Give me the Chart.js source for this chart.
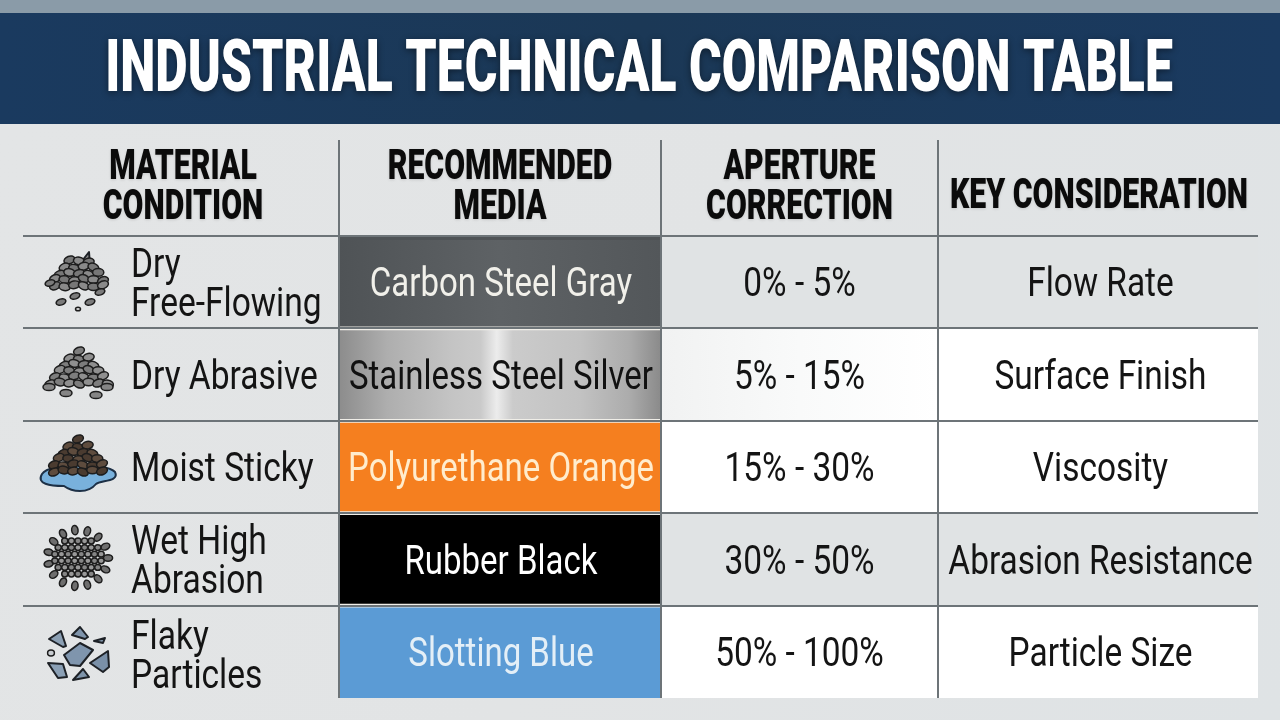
<!DOCTYPE html>
<html>
<head>
<meta charset="utf-8">
<title>Industrial Technical Comparison Table</title>
<script src="https://cdn.jsdelivr.net/npm/chart.js@4"></script>
<style>
  html, body { margin: 0; padding: 0; background: #e2e5e6; }
  canvas { display: block; }
</style>
</head>
<body>
<canvas id="myChart" width="1280" height="720"></canvas>
<script>
const chartTitle = 'INDUSTRIAL TECHNICAL COMPARISON TABLE'
const columnHeaders = ['MATERIAL\nCONDITION', 'RECOMMENDED\nMEDIA', 'APERTURE\nCORRECTION', 'KEY CONSIDERATION']
const materials = ['Dry\nFree-Flowing', 'Dry Abrasive', 'Moist Sticky', 'Wet High\nAbrasion', 'Flaky\nParticles']
const media = ['Carbon Steel Gray', 'Stainless Steel Silver', 'Polyurethane Orange', 'Rubber Black', 'Slotting Blue']
const apertureCorrection = ['0% - 5%', '5% - 15%', '15% - 30%', '30% - 50%', '50% - 100%']
const keyConsideration = ['Flow Rate', 'Surface Finish', 'Viscosity', 'Abrasion Resistance', 'Particle Size']

// table grid, in pixels of the x scale
const edges = [0, 316, 638, 915, 1235]
const span = (col) => materials.map(() => [edges[col], edges[col + 1]])

const mediaText = ['#f1f0ea', '#111111', '#ffeccd', '#ffffff', '#e4eff7']
const rowFill = ['#e0e3e4', '#ffffff', '#ffffff', '#e0e3e4', '#ffffff']
const LINE = '#6d7478'

const mediaFill = (context) => {
  const { ctx, chartArea } = context.chart
  if (!chartArea) return '#888888'
  const xs = context.chart.scales.x
  const x0 = xs.getPixelForValue(edges[1])
  const x1 = xs.getPixelForValue(edges[2])
  if (!Number.isFinite(x0) || !Number.isFinite(x1)) return '#888888'
  const g = ctx.createLinearGradient(x0, 0, x1, 0)
  if (context.dataIndex === 0) {
    g.addColorStop(0, '#4f5356'); g.addColorStop(0.5, '#5e6265'); g.addColorStop(1, '#53575a')
  } else if (context.dataIndex === 1) {
    [[0, '#8c8c8c'], [0.15, '#aeaeae'], [0.35, '#c4c4c4'], [0.44, '#cacaca'], [0.49, '#ececec'],
     [0.54, '#cbcbcb'], [0.75, '#c2c2c2'], [0.9, '#acacac'], [1, '#8a8a8a']].forEach((s) => g.addColorStop(s[0], s[1]))
  } else {
    const c = ['', '', '#f57f1f', '#000000', '#5b9bd5'][context.dataIndex]
    g.addColorStop(0, c); g.addColorStop(1, c)
  }
  return g
}

const apertureFill = (context) => {
  if (context.dataIndex !== 1) return rowFill[context.dataIndex]
  if (!context.chart.chartArea) return '#f4f5f5'
  const xs = context.chart.scales.x
  const x0 = xs.getPixelForValue(edges[2])
  const x1 = xs.getPixelForValue(edges[3])
  if (!Number.isFinite(x0) || !Number.isFinite(x1)) return '#f4f5f5'
  const g = context.chart.ctx.createLinearGradient(x0, 0, x1, 0)
  g.addColorStop(0, '#f1f2f2'); g.addColorStop(0.5, '#f9fafa'); g.addColorStop(1, '#ffffff')
  return g
}

// text squeezed horizontally, the reference uses a condensed face
const put = (ctx, text, x, y, size, weight, squeeze, color, align) => {
  ctx.save()
  ctx.font = weight + ' ' + size + 'px Roboto'
  ctx.fillStyle = color
  ctx.textBaseline = 'middle'
  ctx.textAlign = align || 'center'
  ctx.translate(x, y)
  ctx.scale(squeeze, 1)
  ctx.fillText(text, 0, 0)
  ctx.restore()
}

const pebble = (ctx, x, y, rx, ry, fill, rot) => {
  ctx.beginPath()
  ctx.ellipse(x, y, rx, ry, rot || 0, 0, Math.PI * 2)
  ctx.fillStyle = fill
  ctx.fill()
  ctx.lineWidth = 1.5
  ctx.strokeStyle = '#1d1d1d'
  ctx.stroke()
}

const pile = (ctx, cx, topY, rows, fill, fill2) => {
  rows.forEach((n, r) => {
    for (let i = 0; i < n; i++) {
      const x = cx + (i - (n - 1) / 2) * 9.6
      const tilt = ((i * 3 + r * 5) % 5 - 2) * 0.18
      pebble(ctx, x, topY + r * 6.2 + ((i + r) % 3) - 1, 5.6, 3.8, (i + r) % 2 ? fill : fill2, tilt)
    }
  })
}

const flake = (ctx, pts, fill) => {
  ctx.beginPath()
  pts.forEach((p, i) => i ? ctx.lineTo(p[0], p[1]) : ctx.moveTo(p[0], p[1]))
  ctx.closePath()
  ctx.fillStyle = fill
  ctx.fill()
  ctx.lineWidth = 2
  ctx.lineJoin = 'round'
  ctx.strokeStyle = '#1d2126'
  ctx.stroke()
}

const drawIcons = (ctx) => {
  ctx.save()
  // dry free-flowing
  flake(ctx, [[82, 261], [89, 252], [90, 265]], '#8d8d8d')
  pile(ctx, 79, 261, [3, 4, 5, 6, 6], '#8a8a8a', '#777777')
  ;[[50, 283], [100, 292], [61, 302], [75, 296], [90, 302]].forEach((p) => pebble(ctx, p[0], p[1], 5, 3, '#7b7b7b', -0.3))
  pebble(ctx, 78, 309, 2.5, 1.8, '#d8d8d8')
  // dry abrasive
  pile(ctx, 79, 352, [1, 3, 4, 5, 6, 7], '#8f8f8f', '#7d7d7d')
  ;[[49, 387], [66, 393], [96, 395], [107, 387]].forEach((p) => pebble(ctx, p[0], p[1], 6, 3.6, '#858585'))
  // moist sticky
  ctx.beginPath()
  ctx.moveTo(42, 474)
  ctx.bezierCurveTo(50, 462, 106, 462, 115, 472)
  ctx.bezierCurveTo(120, 482, 100, 480, 96, 484)
  ctx.bezierCurveTo(88, 494, 72, 492, 64, 486)
  ctx.bezierCurveTo(50, 486, 36, 484, 42, 474)
  ctx.fillStyle = '#79b1dc'
  ctx.fill()
  ctx.lineWidth = 2
  ctx.strokeStyle = '#1d3046'
  ctx.stroke()
  pile(ctx, 78, 440, [1, 3, 4, 5, 6, 6], '#5e4c3e', '#4a3b30')
  // wet high abrasion
  for (let i = 0; i < 15; i++) {
    const a = i / 15 * Math.PI * 2
    pebble(ctx, 78 + Math.cos(a) * 30, 558 + Math.sin(a) * 28, 4.6, 3.2, '#6e6e6e', a)
  }
  ;[5, 7, 8, 8, 7, 5].forEach((n, r) => {
    for (let i = 0; i < n; i++) {
      pebble(ctx, 78 + (i - (n - 1) / 2) * 6.6, 541 + r * 6.6, 3.1, 2.9, i % 2 ? '#999999' : '#858585')
    }
  })
  // flaky particles
  const blue = '#7f95ad'
  flake(ctx, [[49, 639], [61, 631], [66, 646], [63, 647]], '#8b9fb3')
  flake(ctx, [[72, 635], [80, 627], [88, 637], [85, 639]], '#7f94ab')
  flake(ctx, [[94, 641], [105, 638], [103, 643]], '#8398ae')
  flake(ctx, [[64, 655], [80, 643], [93, 650], [80, 666], [70, 665]], blue)
  flake(ctx, [[90, 663], [108, 651], [109, 667], [103, 672]], '#7a90a8')
  flake(ctx, [[48, 663], [63, 664], [67, 677], [58, 678]], '#8ba0b5')
  flake(ctx, [[73, 680], [83, 669], [89, 677]], '#7e94aa')
  pebble(ctx, 51, 653, 3.4, 3, '#c8ccd0')
  ctx.restore()
}

const tablePlugin = {
  id: 'table',
  beforeDraw(chart) {
    const ctx = chart.ctx
    ctx.save()
    const page = ctx.createLinearGradient(0, 125, 1280, 720)
    page.addColorStop(0, '#e3e5e6'); page.addColorStop(0.5, '#e2e4e5'); page.addColorStop(1, '#dfe3e5')
    ctx.fillStyle = page
    ctx.fillRect(0, 0, 1280, 720)
    ctx.fillStyle = '#8a9ba8'
    ctx.fillRect(0, 0, 1280, 13)
    const band = ctx.createLinearGradient(0, 0, 1280, 0)
    band.addColorStop(0, '#1a3a5f'); band.addColorStop(0.5, '#1b3856'); band.addColorStop(1, '#1a3a60')
    ctx.fillStyle = band
    ctx.fillRect(0, 13, 1280, 111)
    ctx.restore()
  },
  afterDraw(chart) {
    const ctx = chart.ctx
    const xs = chart.scales.x
    const ys = chart.scales.y
    const mid = (col) => (xs.getPixelForValue(edges[col]) + xs.getPixelForValue(edges[col + 1])) / 2

    ctx.save()
    // media column runs flush to the table top and bottom
    const mx0 = xs.getPixelForValue(edges[1])
    const mw = xs.getPixelForValue(edges[2]) - mx0
    ctx.fillStyle = '#4f5356'
    ctx.fillRect(mx0 + 1, chart.chartArea.top + 1, mw - 2, 3)
    ctx.fillStyle = '#5b9bd5'
    ctx.fillRect(mx0 + 1, chart.chartArea.bottom - 3, mw - 2, 3)

    ctx.strokeStyle = LINE
    ctx.lineWidth = 2
    edges.slice(1, 4).forEach((e) => {
      const x = xs.getPixelForValue(e)
      ctx.beginPath(); ctx.moveTo(x, 140); ctx.lineTo(x, chart.chartArea.top); ctx.stroke()
    })
    ctx.shadowColor = 'rgba(0,0,0,0.45)'
    ctx.shadowBlur = 7
    ctx.shadowOffsetY = 2
    put(ctx, chartTitle, 639, 73, 73, '900', 0.684, '#ffffff')
    ctx.shadowColor = 'rgba(0,0,0,0.12)'
    ctx.shadowBlur = 3
    ctx.shadowOffsetY = 1
    columnHeaders.forEach((h, c) => {
      const lines = h.split('\n')
      lines.forEach((t, i) => {
        const y = lines.length > 1 ? 168 + i * 40 : 197
        put(ctx, t, c === 3 ? mid(c) + 1 : mid(c) + (c === 0 ? 2 : 0), y, 42, '900', 0.72, '#0b0b0b')
      })
    })
    ctx.shadowColor = 'transparent'

    materials.forEach((m, r) => {
      const y = ys.getPixelForValue(r) + 4
      const lines = m.split('\n')
      lines.forEach((t, i) => {
        const ty = lines.length > 1 ? y + (i - 0.5) * 39 + (r === 4 ? 2 : 0) : y
        put(ctx, t, 131, ty, 41, 'normal', 0.818, '#141414', 'left')
      })
      put(ctx, media[r], mid(1) + 1, y, 41, 'normal', 0.805, mediaText[r])
      put(ctx, apertureCorrection[r], mid(2), y, 41, 'normal', 0.815, '#141414')
      put(ctx, keyConsideration[r], mid(3) + 2.5, y, 41, 'normal', 0.815, '#141414')
    })
    drawIcons(ctx)
    ctx.restore()
  }
}

new Chart(document.getElementById('myChart'), {
  type: 'bar',
  plugins: [tablePlugin],
  data: {
    labels: materials,
    datasets: [
      { label: columnHeaders[1], data: span(1), backgroundColor: mediaFill, barPercentage: 0.96, categoryPercentage: 1, order: 1 },
      { label: 'gap', data: span(1), backgroundColor: '#f0eee8', barPercentage: 1, categoryPercentage: 1, order: 2 },
      { label: columnHeaders[2], data: span(2), backgroundColor: apertureFill, barPercentage: 1, categoryPercentage: 1, order: 3 },
      { label: columnHeaders[3], data: span(3), backgroundColor: rowFill, barPercentage: 1, categoryPercentage: 1, order: 3 }
    ]
  },
  options: {
    indexAxis: 'y',
    responsive: false,
    animation: false,
    devicePixelRatio: 1,
    layout: { padding: { left: 23, right: 22, top: 236, bottom: 22 } },
    datasets: { bar: { grouped: false } },
    plugins: { legend: { display: false }, tooltip: { enabled: false }, title: { display: false } },
    scales: {
      x: {
        type: 'linear',
        min: edges[0],
        max: edges[4],
        afterBuildTicks: (axis) => { axis.ticks = edges.map((value) => ({ value })) },
        ticks: { display: false },
        border: { display: false },
        grid: {
          z: 1,
          lineWidth: 2,
          drawTicks: false,
          color: (c) => (c.index === 0 || c.index === edges.length - 1 ? 'transparent' : LINE)
        }
      },
      y: {
        type: 'category',
        ticks: { display: false },
        border: { display: false },
        grid: {
          z: 1,
          offset: true,
          lineWidth: 2,
          drawTicks: false,
          color: (c) => (c.tick ? LINE : 'transparent')
        }
      }
    }
  }
})
</script>
</body>
</html>
